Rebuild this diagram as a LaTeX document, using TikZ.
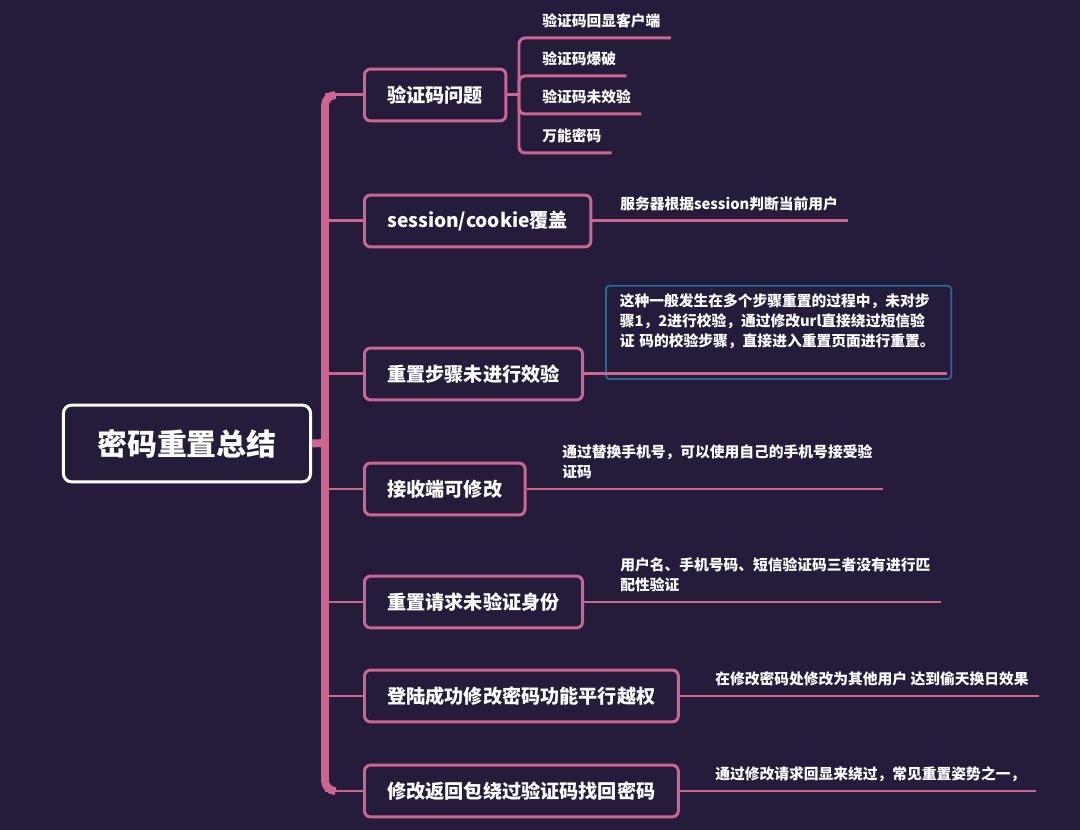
\documentclass[tikz,border=0pt]{standalone}
\usepackage{fontspec}
\setmainfont{Noto Sans CJK SC}
\definecolor{bgpurple}{RGB}{37,27,58}
\definecolor{rosepink}{RGB}{204,102,145}
\definecolor{selblue}{RGB}{40,105,150}

\begin{document}
\begin{tikzpicture}[
    x=0.02cm, y=-0.02cm,
    topic/.style={draw=white, line width=1.7pt, rounded corners=4.5pt, text=white,
      minimum width=140.6pt, minimum height=43.6pt,
      font=\bfseries\fontsize{17}{20}\selectfont},
    branch/.style={draw=rosepink, line width=1.7pt, rounded corners=3.4pt, text=white,
      anchor=west, minimum height=29.5pt, inner xsep=13pt,
      font=\bfseries\fontsize{10.9}{13}\selectfont},
    leaf/.style={anchor=south west, inner sep=0pt, text depth=6.2pt, text=white,
      align=left, font=\bfseries\fontsize{8.4}{11.3}\selectfont},
    note/.style={leaf, anchor=north west, draw=selblue, line width=1pt,
      rounded corners=2pt, inner xsep=7.9pt, inner ysep=4.5pt,
      text width=180.8pt, text depth=36.8pt},
    spine/.style={rosepink, line width=4.5pt},
    twig/.style={rosepink, line width=1.7pt, rounded corners=3.4pt}
  ]
  \fill[bgpurple] (0,0) rectangle (1080,830);

  % central topic
  \node[topic] (root) at (187,443.5) {密码重置总结};
  \coordinate (hub) at (325,443);

  % main branches
  \node[branch] (b1) at (363,95) {验证码问题};
  \node[branch] (b2) at (363,221) {session/cookie覆盖};
  \node[branch] (b3) at (363,374) {重置步骤未进行效验};
  \node[branch] (b4) at (363,489) {接收端可修改};
  \node[branch] (b5) at (363,602) {重置请求未验证身份};
  \node[branch] (b6) at (363,696) {登陆成功修改密码功能平行越权};
  \node[branch] (b7) at (363,791) {修改返回包绕过验证码找回密码};

  \draw[spine] (root.east) -- (hub);
  \draw[spine, rounded corners=6pt] ([xshift=6pt]hub |- b1.west) -- (hub |- b1.west)
    -- (hub |- b7.west) -- ([xshift=6pt]hub |- b7.west);
  \foreach \b in {b1,b2,b3,b4,b5,b6,b7}
    \draw[twig] (hub |- \b.west) -- (\b.west);

  % captcha leaves
  \coordinate (fork) at (519,95);
  \node[leaf] (c1) at (542,38) {验证码回显客户端};
  \node[leaf] (c2) at (542,76) {验证码爆破};
  \node[leaf] (c3) at (542,114) {验证码未效验};
  \node[leaf] (c4) at (542,153) {万能密码};
  \draw[twig] (b1.east) -- (fork);
  \foreach \c in {c1,c2,c3,c4}
    \draw[twig] (fork) |- (\c.south west) -- (\c.south east) -- ++(10,0);

  % notes on the other branches
  \node[leaf] (s2) at (620,221) {服务器根据session判断当前用户};
  \node[note] (s3) at (605,285)
    {这种一般发生在多个步骤重置的过程中，未对步\\骤1，2进行校验，通过修改url直接绕过短信验\\证 码的校验步骤，直接进入重置页面进行重置。};
  \coordinate (e3) at (947,374);
  \node[leaf] (s4) at (562,489) {通过替换手机号，可以使用自己的手机号接受验\\证码};
  \node[leaf] (s5) at (620,602) {用户名、手机号码、短信验证码三者没有进行匹\\配性验证};
  \node[leaf] (s6) at (715,696) {在修改密码处修改为其他用户 达到偷天换日效果};
  \node[leaf] (s7) at (715,791) {通过修改请求回显来绕过，常见重置姿势之一，};

  \draw[twig] (b3.east) -- (e3);
  \foreach \s/\b in {s2/b2,s4/b4,s5/b5,s6/b6,s7/b7}
    \draw[twig] (\b.east) -- (\s.south west) -- (\s.south east) -- ++(10,0);
\end{tikzpicture}
\end{document}
